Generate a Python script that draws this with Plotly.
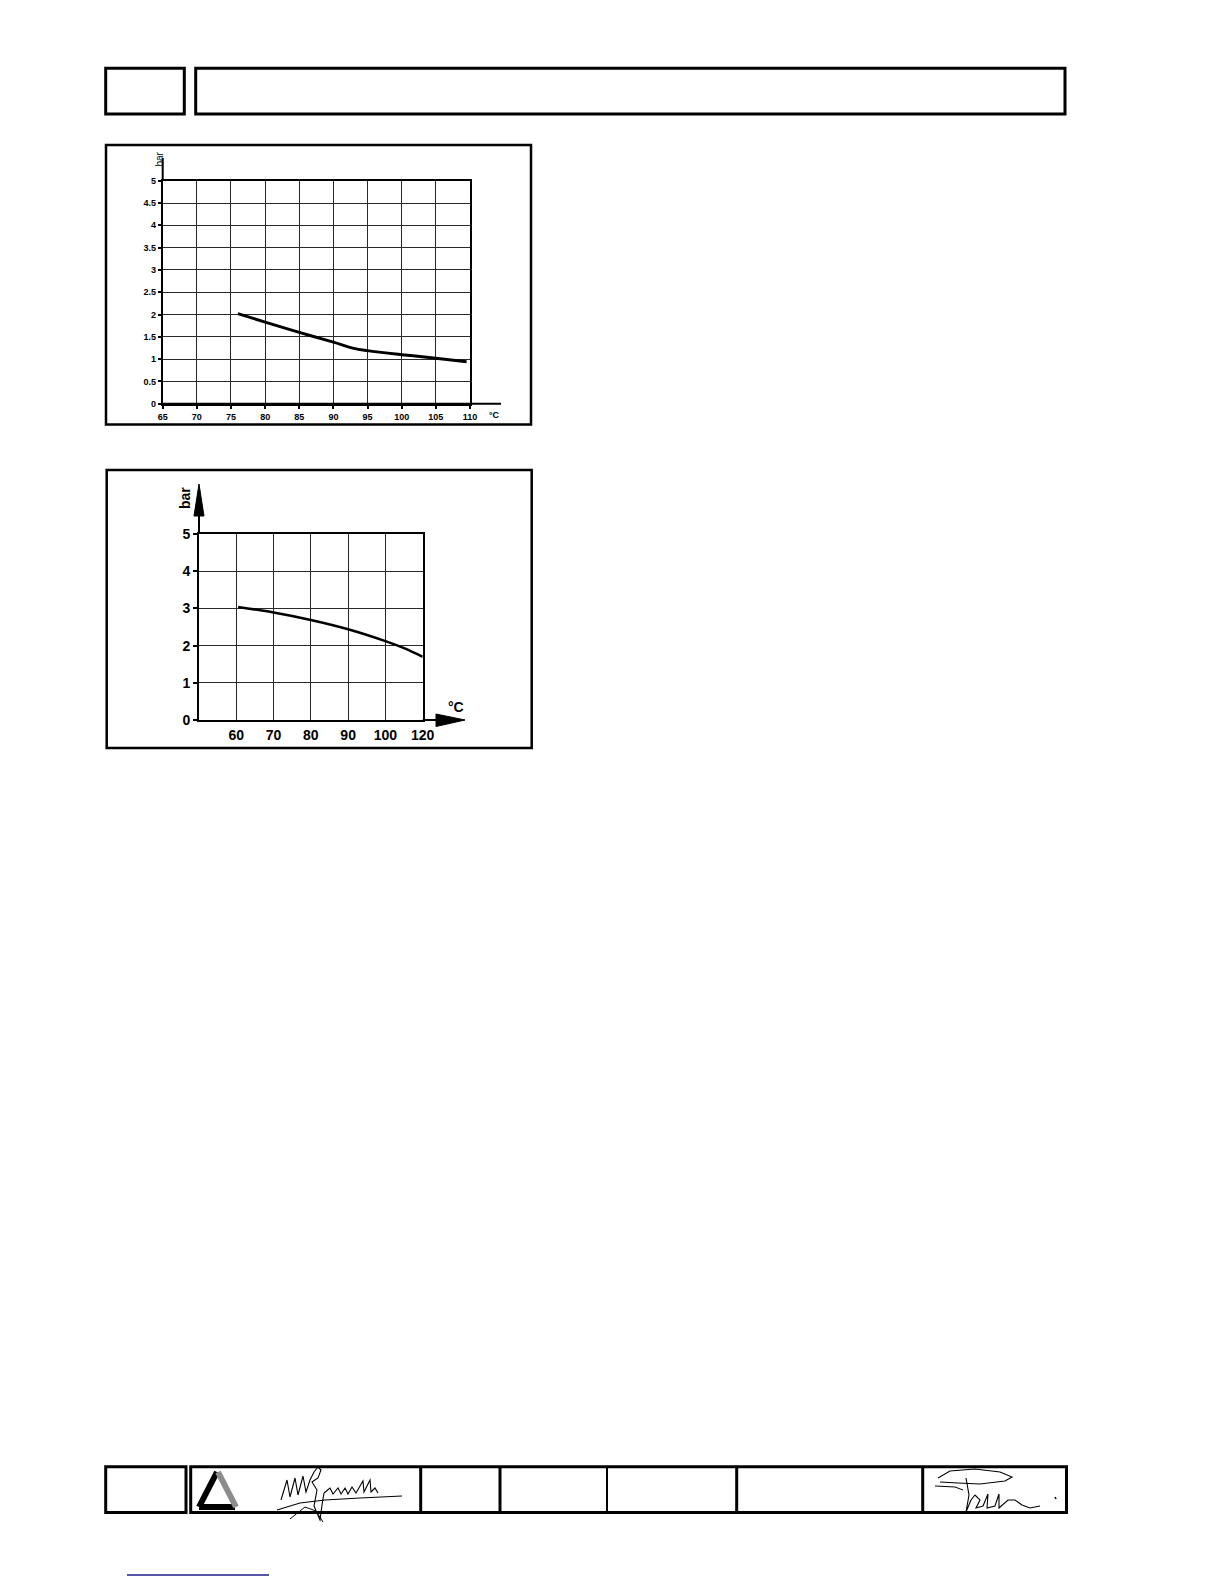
import plotly.graph_objects as go

# ---------------- data ----------------
temp1 = [76, 80, 85, 90, 93, 95, 100, 105, 109.5]
pres1 = [2.02, 1.83, 1.60, 1.38, 1.24, 1.19, 1.10, 1.02, 0.94]
x1_ticks = [65, 70, 75, 80, 85, 90, 95, 100, 105, 110]
y1_ticks = [0, 0.5, 1, 1.5, 2, 2.5, 3, 3.5, 4, 4.5, 5]
y1_labels = ["0", "0.5", "1", "1.5", "2", "2.5", "3", "3.5", "4", "4.5", "5"]

# chart 2: the drawn grid is evenly spaced, but its last line is labelled 120
x2_pos = [60.5, 70, 80, 90, 100, 105, 110]          # positions on the drawn grid
pres2 = [3.04, 2.89, 2.69, 2.44, 2.12, 1.93, 1.70]
x2_ticks = [60, 70, 80, 90, 100, 110]
x2_labels = ["60", "70", "80", "90", "100", "120"]
y2_ticks = [0, 1, 2, 3, 4, 5]

W, H = 1224, 1584
OFF = 8  # page body margin
FONT = "Liberation Sans, Arial, sans-serif"


def px(x):
    return (x - OFF) / W


def py(y):
    return 1 - (y - OFF) / H


def rect(x0, y0, x1, y1, w=2.5, color="black"):
    return dict(type="rect", xref="paper", yref="paper",
                x0=px(x0), x1=px(x1), y0=py(y1), y1=py(y0),
                line=dict(color=color, width=w), fillcolor="rgba(0,0,0,0)", layer="above")


def seg(x0, y0, x1, y1, w=2, color="black"):
    return dict(type="line", xref="paper", yref="paper",
                x0=px(x0), x1=px(x1), y0=py(y0), y1=py(y1),
                line=dict(color=color, width=w), layer="above")


def poly(pts, w=1.2, color="black", fill=None, close=False):
    d = "M " + " L ".join(f"{px(a):.5f},{py(b):.5f}" for a, b in pts)
    if close:
        d += " Z"
    s = dict(type="path", xref="paper", yref="paper", path=d,
             line=dict(color=color, width=w), layer="above")
    if fill:
        s["fillcolor"] = fill
    return s


fig = go.Figure()

fig.add_trace(go.Scatter(x=temp1, y=pres1, mode="lines", xaxis="x", yaxis="y",
                         line=dict(color="black", width=3, shape="spline", smoothing=1.0),
                         showlegend=False, hoverinfo="skip"))
fig.add_trace(go.Scatter(x=x2_pos, y=pres2, mode="lines", xaxis="x2", yaxis="y2",
                         line=dict(color="black", width=2.5, shape="spline", smoothing=0.8),
                         showlegend=False, hoverinfo="skip"))

grid = "#2a2a2a"
common = dict(showgrid=True, gridcolor=grid, gridwidth=1.4, zeroline=False,
              showline=True, linecolor="black", linewidth=2, mirror=True,
              automargin=False, fixedrange=True)

fig.update_layout(
    width=W, height=H, margin=dict(l=0, r=0, t=0, b=0, pad=0, autoexpand=False),
    paper_bgcolor="white", plot_bgcolor="white", showlegend=False,
    font=dict(family=FONT, color="black"),
    xaxis=dict(domain=[px(162.7), px(470)], range=[65, 110], tickvals=x1_ticks,
               ticks="outside", ticklen=3, tickwidth=1.5, tickcolor="black",
               tickfont=dict(size=9, weight="bold", family=FONT), anchor="y", **common),
    yaxis=dict(domain=[py(403.7), py(180.7)], range=[0, 5], tickvals=y1_ticks, ticktext=y1_labels,
               ticks="outside", ticklen=3, tickwidth=1.5, tickcolor="black",
               tickfont=dict(size=9, weight="bold", family=FONT), anchor="x", **common),
    xaxis2=dict(domain=[px(199), px(422.7)], range=[50, 110], tickvals=x2_ticks, ticktext=x2_labels,
                ticks="", ticklabelstandoff=1,
                tickfont=dict(size=14, weight="bold", family=FONT), anchor="y2", **common),
    yaxis2=dict(domain=[py(720), py(534)], range=[0, 5], tickvals=y2_ticks,
                ticks="outside", ticklen=4, tickwidth=2, tickcolor="black",
                tickfont=dict(size=14, weight="bold", family=FONT), anchor="x2", **common),
)

shapes = []
# header boxes
shapes.append(rect(105.7, 68.3, 184.3, 114, w=3))
shapes.append(rect(195.7, 68.3, 1065, 114, w=3))
# chart frames
shapes.append(rect(106, 145, 531, 424.5, w=2.5))
shapes.append(rect(106.7, 470, 531.7, 748, w=2.5))
# chart 1 axis extensions
shapes.append(seg(162.7, 403.7, 501, 403.7, w=2))
shapes.append(seg(162.7, 180.7, 162.7, 158, w=2))
# chart 2 axis extensions with arrows
shapes.append(seg(199, 534, 199, 510, w=2))
shapes.append(poly([(199, 484), (194, 516), (204, 516)], w=1, fill="black", close=True))
shapes.append(seg(422.7, 720, 440, 720, w=2))
shapes.append(poly([(465, 720), (436, 714), (436, 726.5)], w=1, fill="black", close=True))

# footer boxes
shapes.append(rect(105.7, 1466.7, 186, 1512.5, w=3))
shapes.append(rect(190.7, 1466.7, 1066.5, 1512.5, w=3))
for xd, wd in [(420.7, 3), (500, 3), (607, 2), (736.7, 3), (922.7, 3)]:
    shapes.append(seg(xd, 1466.7, xd, 1512.5, w=wd))

# logo (rounded triangle)
shapes.append(seg(217, 1472, 199, 1507, w=6, color="black"))
shapes.append(seg(199, 1507, 235, 1507, w=6, color="black"))
shapes.append(seg(218, 1472, 236, 1507, w=6, color="#8c8c8c"))

# signature 1
shapes.append(poly([(281, 1500), (287, 1480), (290, 1497), (295, 1478), (298, 1495),
                    (303, 1476), (306, 1492), (310, 1480), (314, 1472), (318, 1467),
                    (321, 1470), (318, 1478), (312, 1482), (317, 1490), (314, 1506),
                    (320, 1520), (322, 1505), (324, 1493)], w=1.1))
shapes.append(poly([(324, 1493), (330, 1488), (333, 1494), (338, 1488), (341, 1494),
                    (345, 1488), (348, 1494), (352, 1487), (356, 1493), (360, 1486),
                    (363, 1481), (364, 1492), (368, 1484), (370, 1480), (371, 1492),
                    (375, 1488), (378, 1493)], w=1.1))
shapes.append(poly([(277, 1510), (300, 1503), (325, 1500), (360, 1498), (402, 1496)], w=1.1))
shapes.append(poly([(290, 1519), (305, 1507), (316, 1511), (323, 1522)], w=1.0))

# signature 2
shapes.append(poly([(938, 1478), (950, 1471), (975, 1469), (1000, 1472), (1012, 1477),
                    (1005, 1481), (980, 1484), (958, 1483), (940, 1482)], w=1.1))
shapes.append(poly([(935, 1486), (955, 1487), (963, 1490)], w=1.0))
shapes.append(poly([(966, 1478), (969, 1495), (966, 1512), (971, 1500), (975, 1495)], w=1.1))
shapes.append(poly([(975, 1495), (980, 1500), (976, 1508), (983, 1506), (988, 1494),
                    (987, 1508), (995, 1506), (999, 1494), (999, 1508), (1008, 1500),
                    (1015, 1500), (1022, 1505), (1030, 1508), (1040, 1506)], w=1.1))
shapes.append(poly([(1055, 1497), (1056, 1499)], w=1.5))

# blue link line
shapes.append(seg(127, 1575, 269, 1575, w=1.5, color="#1c1c8c"))

fig.update_layout(shapes=shapes)

annotations = [
    dict(text="bar", x=px(158.5), y=py(159), xref="paper", yref="paper", showarrow=False,
         textangle=-90, font=dict(size=10, family=FONT), xanchor="center", yanchor="middle"),
    dict(text="°C", x=px(495), y=py(415), xref="paper", yref="paper", showarrow=False,
         font=dict(size=9, family=FONT, weight="bold"), xanchor="center", yanchor="middle"),
    dict(text="bar", x=px(185), y=py(498), xref="paper", yref="paper", showarrow=False,
         textangle=-90, font=dict(size=14, family=FONT, weight="bold"), xanchor="center", yanchor="middle"),
    dict(text="°C", x=px(456), y=py(707), xref="paper", yref="paper", showarrow=False,
         font=dict(size=14, family=FONT, weight="bold"), xanchor="center", yanchor="middle"),
]
fig.update_layout(annotations=annotations)

fig.write_html("out.html", config={"displayModeBar": False})
